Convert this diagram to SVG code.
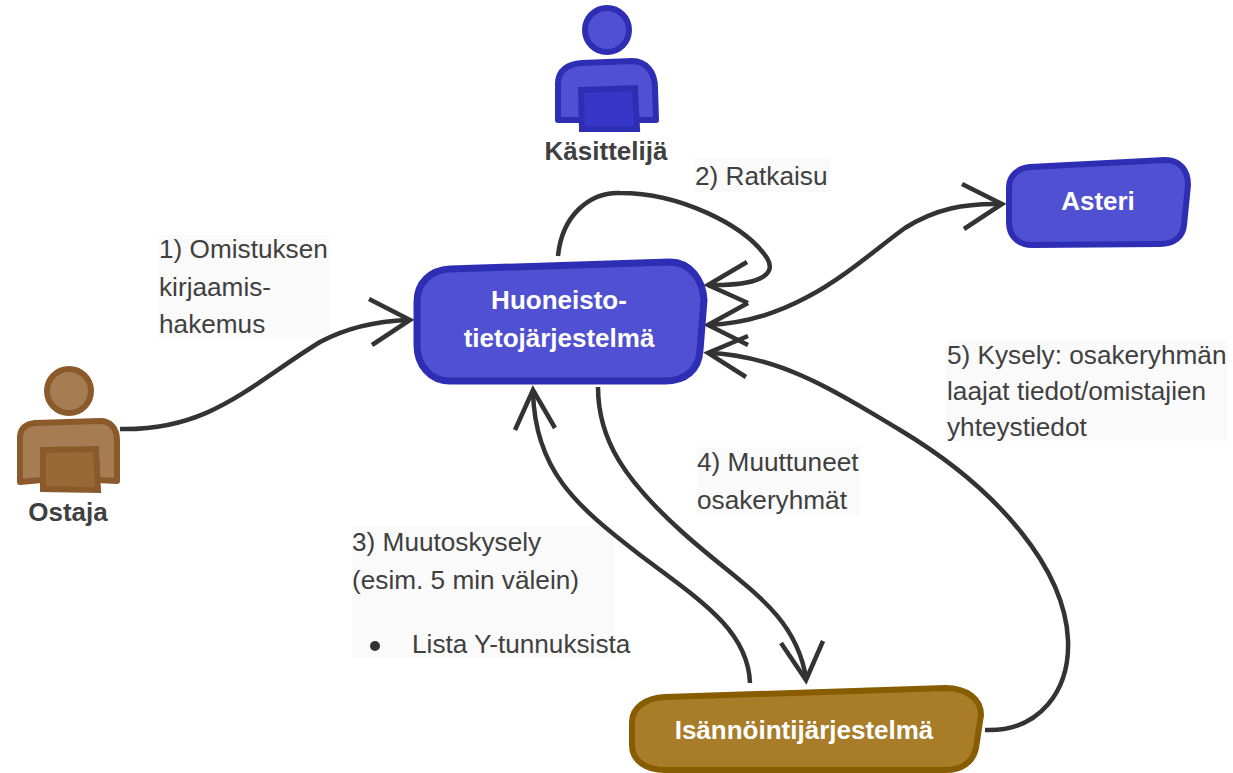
<svg xmlns="http://www.w3.org/2000/svg" width="1233" height="773" viewBox="0 0 1233 773">
<style>
.c{fill:none;stroke:#333;stroke-width:4.5;stroke-linecap:butt;stroke-linejoin:miter}
.lb{fill:#fafafa}
.t{font-family:"Liberation Sans",Arial,sans-serif;font-size:26.2px;fill:#404040}
.b{font-family:"Liberation Sans",Arial,sans-serif;font-size:26px;font-weight:bold;fill:#404040;text-anchor:middle}
.w{font-family:"Liberation Sans",Arial,sans-serif;font-size:26px;font-weight:bold;fill:#fff;text-anchor:middle}
.bl{fill:#5050d2;stroke:#2e2eb4;stroke-width:6;stroke-linejoin:round}
.bd{fill:#3636c8;stroke:#2e2eb4;stroke-width:6;stroke-linejoin:miter}
.br{fill:#a67c52;stroke:#8b5a2b;stroke-width:6;stroke-linejoin:round}
.brd{fill:#9a6836;stroke:#8b5a2b;stroke-width:6;stroke-linejoin:miter}
.g{fill:#a87c28;stroke:#885c00;stroke-width:6}
</style>
<rect width="1233" height="773" fill="#fff"/>
<g id="labels">
<rect class="lb" x="159" y="235" width="170" height="104"/>
<rect class="lb" x="694" y="158" width="136" height="34"/>
<rect class="lb" x="946" y="340" width="281" height="101"/>
<rect class="lb" x="697" y="447" width="163" height="68"/>
<rect class="lb" x="352" y="526" width="262" height="132"/>
<text class="t" x="159" y="258">1) Omistuksen</text>
<text class="t" x="159" y="296">kirjaamis-</text>
<text class="t" x="159" y="333">hakemus</text>
<text class="t" x="695" y="185">2) Ratkaisu</text>
<text class="t" x="947" y="364">5) Kysely: osakeryhmän</text>
<text class="t" x="947" y="400">laajat tiedot/omistajien</text>
<text class="t" x="947" y="436">yhteystiedot</text>
<text class="t" x="697" y="471">4) Muuttuneet</text>
<text class="t" x="697" y="509">osakeryhmät</text>
<text class="t" x="352" y="551">3) Muutoskysely</text>
<text class="t" x="352" y="589">(esim. 5 min välein)</text>
<circle cx="375" cy="646" r="5" fill="#333"/>
<text class="t" x="412" y="653">Lista Y-tunnuksista</text>
</g>
<g id="connectors">
<path class="c" d="M120 429C210 431 250 385 320 342C350 326 380 321 408 320"/>
<path class="c" d="M369 299L410 320L372 345"/>
<path class="c" d="M558 256C562 215 590 192 620 193C680 193 745 225 767 258C778 276 756 286 708 285"/>
<path class="c" d="M747 262L708 285L748 303"/>
<path class="c" d="M708 325C800 322 860 260 905 228C935 209 965 203 1001 204"/>
<path class="c" d="M748 303L708 325L748 345"/>
<path class="c" d="M962 184L1002 204L964 229"/>
<path class="c" d="M598 387C598 440 625 480 680 530C740 585 795 610 806 678"/>
<path class="c" d="M781 643L806 680L823 641"/>
<path class="c" d="M750 683C748 630 700 600 640 555C575 505 535 470 533 392"/>
<path class="c" d="M515 430L533 390L555 428"/>
<path class="c" d="M985 730C1040 732 1070 690 1068 640C1065 570 1000 490 900 430C840 394 780 355 708 353"/>
<path class="c" d="M748 336L708 353L746 377"/>
</g>
<g id="kasittelija">
<circle class="bl" cx="607" cy="30" r="22"/>
<path class="bl" d="M558 120V84C558 70 568 64 582 63L632 61C646 61 655 72 655 88L656 120H578Z"/>
<path class="bd" d="M581 90L635 88L637 129H582Z"/>
<text class="b" x="606" y="160">Käsittelijä</text>
</g>
<g id="ostaja">
<circle class="br" cx="69" cy="391" r="22"/>
<path class="br" d="M20 482V438C20 428 26 424 35 423L100 421C110 421 117 428 117 440V481L97 480H42Z"/>
<path class="brd" d="M43 450L96 449L98 490L43 489Z"/>
<text class="b" x="68" y="521">Ostaja</text>
</g>
<g id="huoneisto">
<path class="bl" d="M450 269L670 262C690 262 703 280 704 300L700 350C699 370 685 381 665 381H450C430 381 417 365 417 345V302C417 283 430 270 450 269Z" style="stroke-width:7"/>
<text class="w" x="559" y="309">Huoneisto-</text>
<text class="w" x="559" y="347">tietojärjestelmä</text>
</g>
<g id="asteri">
<path class="bl" d="M1030 167L1165 160C1180 160 1188 170 1188 185L1184 225C1183 237 1174 244 1160 244L1032 245C1018 245 1009 236 1009 222V187C1009 176 1018 168 1030 167Z"/>
<text class="w" x="1098" y="210">Asteri</text>
</g>
<g id="isannointi">
<path class="g" d="M665 697L945 688C968 688 981 700 981 715L976 748C973 762 962 770 945 770H665C645 770 632 760 632 745V722C632 708 645 698 665 697Z"/>
<text class="w" x="804" y="739">Isännöintijärjestelmä</text>
</g>
</svg>
